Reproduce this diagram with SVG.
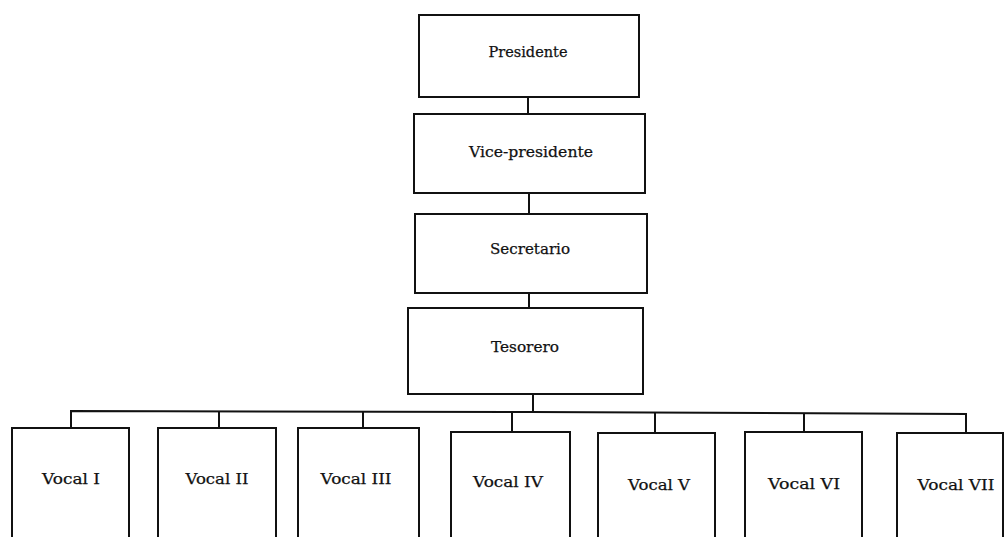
<svg xmlns="http://www.w3.org/2000/svg" width="1005" height="537" viewBox="0 0 1005 537">
<style>
.box{fill:#fff;stroke:#111;stroke-width:2}
.lbl{font-family:"DejaVu Serif","Liberation Serif",serif;font-size:15px;fill:#111;text-anchor:middle;stroke:#111;stroke-width:0.25}
.con{fill:none;stroke:#111;stroke-width:2}
</style>
<rect width="1005" height="537" fill="#fff"/>
<g id="connectors">
<line class="con" x1="528" y1="97" x2="528" y2="114"/>
<line class="con" x1="529" y1="193" x2="529" y2="214"/>
<line class="con" x1="529" y1="293" x2="529" y2="308"/>
<line class="con" x1="533" y1="394" x2="533" y2="412"/>
<polyline class="con" points="71,428 71,411 533,412 966,414 966,433"/>
<line class="con" x1="219" y1="411" x2="219" y2="428"/>
<line class="con" x1="363" y1="412" x2="363" y2="428"/>
<line class="con" x1="512" y1="412" x2="512" y2="432"/>
<line class="con" x1="655" y1="413" x2="655" y2="433"/>
<line class="con" x1="804" y1="413" x2="804" y2="432"/>
</g>
<g id="presidente"><rect class="box" x="419" y="15" width="220" height="82"/><text class="lbl" x="528" y="57" textLength="79" lengthAdjust="spacingAndGlyphs">Presidente</text></g>
<g id="vicepresidente"><rect class="box" x="414" y="114" width="231" height="79"/><text class="lbl" x="531" y="157" textLength="124" lengthAdjust="spacingAndGlyphs">Vice-presidente</text></g>
<g id="secretario"><rect class="box" x="415" y="214" width="232" height="79"/><text class="lbl" x="530" y="254" textLength="80" lengthAdjust="spacingAndGlyphs">Secretario</text></g>
<g id="tesorero"><rect class="box" x="408" y="308" width="235" height="86"/><text class="lbl" x="525" y="352" textLength="68" lengthAdjust="spacingAndGlyphs">Tesorero</text></g>
<g id="vocal1"><rect class="box" x="12" y="428" width="117" height="120"/><text class="lbl" x="71" y="484" textLength="58" lengthAdjust="spacingAndGlyphs">Vocal I</text></g>
<g id="vocal2"><rect class="box" x="158" y="428" width="118" height="120"/><text class="lbl" x="217" y="484" textLength="63" lengthAdjust="spacingAndGlyphs">Vocal II</text></g>
<g id="vocal3"><rect class="box" x="298" y="428" width="121" height="120"/><text class="lbl" x="356" y="484" textLength="71" lengthAdjust="spacingAndGlyphs">Vocal III</text></g>
<g id="vocal4"><rect class="box" x="451" y="432" width="119" height="120"/><text class="lbl" x="508" y="487" textLength="70" lengthAdjust="spacingAndGlyphs">Vocal IV</text></g>
<g id="vocal5"><rect class="box" x="598" y="433" width="117" height="120"/><text class="lbl" x="659" y="490" textLength="62" lengthAdjust="spacingAndGlyphs">Vocal V</text></g>
<g id="vocal6"><rect class="box" x="745" y="432" width="117" height="120"/><text class="lbl" x="804" y="489" textLength="72" lengthAdjust="spacingAndGlyphs">Vocal VI</text></g>
<g id="vocal7"><rect class="box" x="897" y="433" width="106" height="120"/><text class="lbl" x="956" y="490" textLength="77" lengthAdjust="spacingAndGlyphs">Vocal VII</text></g>
</svg>
